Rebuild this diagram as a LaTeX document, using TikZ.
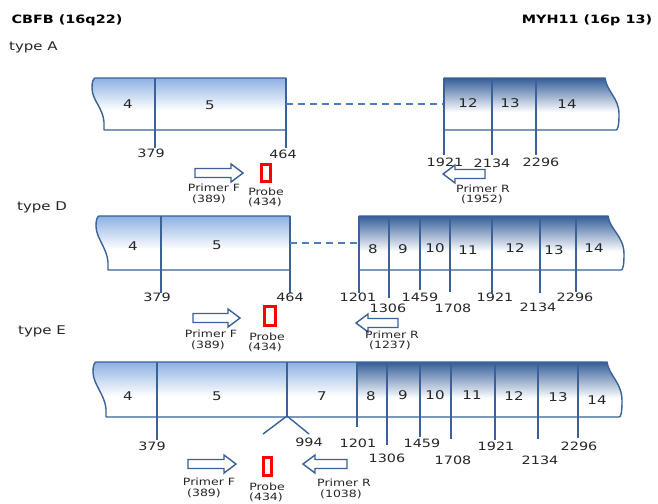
\documentclass[tikz,border=0pt]{standalone}
\usepackage{fontspec}
\setmainfont{DejaVu Sans}[FakeStretch=1.25]
\definecolor{edge}{HTML}{3A6298}
\definecolor{dashc}{HTML}{4A7FC4}
\definecolor{txt}{HTML}{262626}
\definecolor{lightb}{HTML}{8DB1E2}
\definecolor{darkb}{HTML}{345E99}
\tikzset{
  blk/.style={draw=edge, line width=1.4pt, line join=round},
  num/.style={font=\fontsize{11.5}{12}\selectfont, text=txt, inner sep=0pt},
  exon/.style={font=\fontsize{12}{12}\selectfont, text=txt, inner sep=0pt},
  lab/.style={font=\fontsize{10}{10}\selectfont, text=txt, inner sep=0pt},
  typelab/.style={font=\fontsize{12}{12}\selectfont, text=txt, inner sep=0pt, anchor=west},
  head/.style={font=\bfseries\fontsize{11.5}{12}\selectfont, text=black, inner sep=0pt},
  conn/.style={draw=dashc, line width=1.3pt, dash pattern=on 7pt off 5pt},
  primer/.style={draw=edge, line width=1.4pt, fill=white, line join=miter},
  probebox/.style={draw=red, line width=2.6pt, fill=white},
  lightfill/.style={top color=lightb, bottom color=white},
  darkfill/.style={top color=darkb, bottom color=white},
}
% left block: x0, top, bot, right
\newcommand\lblock[4]{%
  \begin{scope}
  \clip (#1+3,#2) -- (#4,#2) -- (#4,#3) -- (#1+12,#3) -- (#1+12,#3-8) .. controls (#1+11,#3-22) and (#1,#2+22) .. (#1,#2+10) .. controls (#1,#2+4) and (#1+1,#2+1) .. (#1+3,#2) -- cycle;
  \fill[white] (#1-2,#2-2) rectangle (#4+2,#3+2);
  \shade[lightfill] (#1-2,#2) rectangle (#4+2,{#2+0.62*(#3-#2)});
  \end{scope}
  \draw[blk] (#1+3,#2) -- (#4,#2) -- (#4,#3) -- (#1+12,#3) -- (#1+12,#3-8) .. controls (#1+11,#3-22) and (#1,#2+22) .. (#1,#2+10) .. controls (#1,#2+4) and (#1+1,#2+1) .. (#1+3,#2) -- cycle;}
% right block: xl, top, bot, xr, bulge
\newcommand\rblock[5]{%
  \begin{scope}
  \clip (#1,#2) -- (#4,#2) .. controls (#4+2,#2+14) and (#4+#5,#2+20) .. (#4+#5,#3-16) .. controls (#4+#5,#3-5) and (#4+#5-1,#3) .. (#4+#5-3,#3) -- (#1,#3) -- cycle;
  \fill[white] (#1-2,#2-2) rectangle (#4+#5+2,#3+2);
  \shade[darkfill] (#1-2,#2) rectangle (#4+#5+2,{#2+0.66*(#3-#2)});
  \end{scope}
  \draw[blk] (#1,#2) -- (#4,#2) .. controls (#4+2,#2+14) and (#4+#5,#2+20) .. (#4+#5,#3-16) .. controls (#4+#5,#3-5) and (#4+#5-1,#3) .. (#4+#5-3,#3) -- (#1,#3) -- cycle;}
\newcommand\rprimer[3]{\draw[primer] (#1,#3-4.5) -- (#2-12,#3-4.5) -- (#2-12,#3-9) -- (#2,#3) -- (#2-12,#3+9) -- (#2-12,#3+4.5) -- (#1,#3+4.5) -- cycle;}
\newcommand\lprimer[3]{\draw[primer] (#2,#3-4.5) -- (#1+12,#3-4.5) -- (#1+12,#3-9) -- (#1,#3) -- (#1+12,#3+9) -- (#1+12,#3+4.5) -- (#2,#3+4.5) -- cycle;}
\newcommand\probe[4]{\draw[probebox] (#1+1.3,#2+1.3) rectangle (#3-1.3,#4-1.3);}
\begin{document}
\begin{tikzpicture}[x=1pt,y=-1pt]
\useasboundingbox[fill=white] (0,0) rectangle (658,503);
% headers
\node[head] (hcbfb) at (67,20) {CBFB (16q22)};
\node[head] (hmyh) at (587,20) {MYH11 (16p 13)};
\node[typelab] (tA) at (9,47) {type A};
\node[typelab] (tD) at (17,207) {type D};
\node[typelab] (tE) at (18,331) {type E};

% ===== type A =====
\lblock{92}{78}{130}{286}
\draw[blk] (155,78) -- (155,148);
\draw[blk] (286,78) -- (286,148);
\coordinate (a1) at (286,104);
\coordinate (a2) at (444,104);
\draw[conn] (a1) -- (a2);
\rblock{444}{78}{130}{605}{14}
\draw[blk] (444,78) -- (444,155);
\draw[blk] (492,78) -- (492,155);
\draw[blk] (536,78) -- (536,155);
\node[exon] (eA4) at (128,104) {4};
\node[exon] (eA5) at (210,105) {5};
\node[exon] (eA12) at (468,103) {12};
\node[exon] (eA13) at (510,103) {13};
\node[exon] (eA14) at (567,104) {14};
\node[num] (nA379) at (151,153) {379};
\node[num] (nA464) at (283,154) {464};
\node[num] (nA1921) at (445,162) {1921};
\node[num] (nA2134) at (492,163) {2134};
\node[num] (nA2296) at (541,162) {2296};
\rprimer{195}{243}{173}
\probe{260}{163}{272}{183}
\lprimer{443}{485}{174}
\node[lab] (pfA) at (214,188) {Primer F};
\node[lab] (pfAn) at (209,199) {(389)};
\node[lab] (prA) at (266,192) {Probe};
\node[lab] (prAn) at (265,202) {(434)};
\node[lab] (rrA) at (483,189) {Primer R};
\node[lab] (rrAn) at (482,199) {(1952)};

% ===== type D =====
\lblock{96}{216}{270}{290}
\draw[blk] (161,216) -- (161,293);
\draw[blk] (290,216) -- (290,293);
\coordinate (d1) at (290,243);
\coordinate (d2) at (359,243);
\draw[conn] (d1) -- (d2);
\rblock{359}{216}{270}{608}{16}
\draw[blk] (359,216) -- (359,293);
\draw[blk] (389,216) -- (389,298);
\draw[blk] (420,216) -- (420,290);
\draw[blk] (450,216) -- (450,292);
\draw[blk] (492,216) -- (492,293);
\draw[blk] (540,216) -- (540,293);
\draw[blk] (576,216) -- (576,292);
\node[exon] (eD4) at (133,246) {4};
\node[exon] (eD5) at (217,245) {5};
\node[exon] (eD8) at (373,249) {8};
\node[exon] (eD9) at (403,249) {9};
\node[exon] (eD10) at (435,248) {10};
\node[exon] (eD11) at (468,250) {11};
\node[exon] (eD12) at (515,248) {12};
\node[exon] (eD13) at (554,250) {13};
\node[exon] (eD14) at (594,248) {14};
\node[num] (nD379) at (157,297) {379};
\node[num] (nD464) at (290,297) {464};
\node[num] (nD1201) at (358,297) {1201};
\node[num] (nD1306) at (388,308) {1306};
\node[num] (nD1459) at (420,297) {1459};
\node[num] (nD1708) at (453,308) {1708};
\node[num] (nD1921) at (495,297) {1921};
\node[num] (nD2134) at (538,307) {2134};
\node[num] (nD2296) at (575,297) {2296};
\rprimer{193}{240}{318}
\probe{263}{305}{277}{327}
\lprimer{356}{398}{323}
\node[lab] (pfD) at (211,334) {Primer F};
\node[lab] (pfDn) at (208,345) {(389)};
\node[lab] (prD) at (267,337) {Probe};
\node[lab] (prDn) at (265,347) {(434)};
\node[lab] (rrD) at (392,335) {Primer R};
\node[lab] (rrDn) at (390,345) {(1237)};

% ===== type E =====
\begin{scope}
\clip (96,362) -- (607,362) .. controls (609,376) and (622,382) .. (622,401) .. controls (622,412) and (621,417) .. (619,417) -- (106,417) -- (106,409) .. controls (105,395) and (93,384) .. (93,372) .. controls (93,366) and (94,363) .. (96,362) -- cycle;
\fill[white] (90,360) rectangle (626,419);
\shade[lightfill] (90,362) rectangle (357,{362+0.62*55});
\shade[darkfill] (357,362) rectangle (626,{362+0.66*55});
\end{scope}
\draw[blk] (96,362) -- (607,362) .. controls (609,376) and (622,382) .. (622,401) .. controls (622,412) and (621,417) .. (619,417) -- (106,417) -- (106,409) .. controls (105,395) and (93,384) .. (93,372) .. controls (93,366) and (94,363) .. (96,362) -- cycle;
\draw[blk] (157,362) -- (157,440);
\draw[blk] (287,362) -- (287,416);
\draw[blk] (263,434) -- (287,416) -- (309,434);
\draw[blk] (357,362) -- (357,427);
\draw[blk] (387,362) -- (387,445);
\draw[blk] (420,362) -- (420,437);
\draw[blk] (451,362) -- (451,439);
\draw[blk] (495,362) -- (495,440);
\draw[blk] (538,362) -- (538,439);
\draw[blk] (578,362) -- (578,438);
\node[exon] (eE4) at (128,396) {4};
\node[exon] (eE5) at (217,396) {5};
\node[exon] (eE7) at (322,396) {7};
\node[exon] (eE8) at (371,396) {8};
\node[exon] (eE9) at (403,395) {9};
\node[exon] (eE10) at (435,395) {10};
\node[exon] (eE11) at (472,395) {11};
\node[exon] (eE12) at (514,396) {12};
\node[exon] (eE13) at (558,397) {13};
\node[exon] (eE14) at (597,400) {14};
\node[num] (nE379) at (152,446) {379};
\node[num] (nE994) at (309,442) {994};
\node[num] (nE1201) at (358,443) {1201};
\node[num] (nE1306) at (387,458) {1306};
\node[num] (nE1459) at (422,443) {1459};
\node[num] (nE1708) at (453,460) {1708};
\node[num] (nE1921) at (496,446) {1921};
\node[num] (nE2134) at (540,460) {2134};
\node[num] (nE2296) at (579,446) {2296};
\rprimer{188}{236}{464}
\probe{262}{456}{273}{477}
\lprimer{303}{347}{464}
\node[lab] (pfE) at (209,482) {Primer F};
\node[lab] (pfEn) at (204,493) {(389)};
\node[lab] (prE) at (267,487) {Probe};
\node[lab] (prEn) at (266,497) {(434)};
\node[lab] (rrE) at (344,483) {Primer R};
\node[lab] (rrEn) at (341,494) {(1038)};
\end{tikzpicture}
\end{document}
